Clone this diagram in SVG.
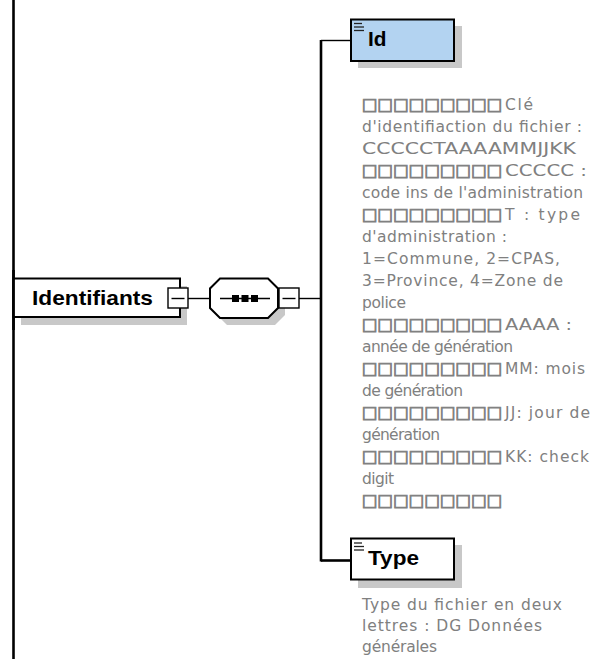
<svg xmlns="http://www.w3.org/2000/svg" width="594" height="659" viewBox="0 0 594 659">
<style>
.bg{fill:#ffffff}
.shadow{fill:#c8c8c8;stroke:none}
.box{fill:#ffffff;stroke:#000;stroke-width:2}
.boxsel{fill:#b3d3f1;stroke:#000;stroke-width:2}
.pm{fill:#ffffff;stroke:#000;stroke-width:1.4}
.thin{stroke:#000;stroke-width:1.4;fill:none}
.thick{stroke:#000;stroke-width:2.6;fill:none}
.icon{stroke:#222;stroke-width:1.3;fill:none}
.lbl{font-family:"Liberation Sans",Arial,sans-serif;font-weight:bold;fill:#000}
.doc{font-family:"DejaVu Sans",Verdana,sans-serif;font-size:15.5px;fill:#808080}
.sq{font-size:16.5px;stroke:#808080;stroke-width:0.8}
</style>
<rect class="bg" x="0" y="0" width="594" height="659"/>

<g id="connectors">
  <line class="thick" x1="13.5" y1="0" x2="13.5" y2="659"/>
  <line class="thin" x1="188" y1="298.5" x2="210" y2="298.5"/>
  <line class="thin" x1="299" y1="298.5" x2="321" y2="298.5"/>
  <line class="thick" x1="321" y1="40" x2="321" y2="561.5"/>
  <line class="thin" x1="321" y1="40.5" x2="351" y2="40.5"/>
  <line class="thick" x1="321" y1="560.5" x2="351" y2="560.5"/>
</g>

<g id="node-identifiants">
  <rect class="shadow" x="21" y="286" width="166" height="39"/>
  <rect class="box" x="13.5" y="278.5" width="166.5" height="38.5"/>
  <line class="thick" x1="13.5" y1="270" x2="13.5" y2="330"/>
  <text class="lbl" x="32" y="305" font-size="21" textLength="121" lengthAdjust="spacingAndGlyphs">Identifiants</text>
  <rect class="pm" x="168" y="288" width="20" height="20"/>
  <line class="thin" x1="171.5" y1="298.5" x2="184.5" y2="298.5"/>
</g>

<g id="node-sequence">
  <polygon class="shadow" points="227,285 275,285 285,295 285,315 275,325 227,325 217,315 217,295"/>
  <polygon points="220,278.5 268,278.5 278,288.5 278,308 268,318 220,318 210,308 210,288.5" fill="#ffffff" stroke="#000" stroke-width="2"/>
  <line class="thin" x1="220" y1="298.5" x2="270" y2="298.5"/>
  <rect x="232" y="295" width="7" height="7" fill="#000"/>
  <rect x="241.5" y="295" width="7" height="7" fill="#000"/>
  <rect x="251" y="295" width="7" height="7" fill="#000"/>
  <rect class="pm" x="279" y="288" width="20" height="20"/>
  <line class="thin" x1="282.5" y1="298.5" x2="295.5" y2="298.5"/>
</g>

<g id="node-id">
  <rect class="shadow" x="358" y="26" width="104" height="42"/>
  <rect class="boxsel" x="351" y="19.5" width="103" height="41.5"/>
  <line class="icon" x1="354" y1="23.5" x2="362" y2="23.5"/>
  <line class="icon" x1="354" y1="27" x2="364" y2="27"/>
  <line class="icon" x1="354" y1="30.5" x2="364" y2="30.5"/>
  <text class="lbl" x="368" y="46" font-size="20" textLength="18.5" lengthAdjust="spacingAndGlyphs">Id</text>
  <g class="doc">
    <text y="110"><tspan class="sq" x="362 377.6 393.2 408.8 424.4 440 455.6 471.2 486.8">□□□□□□□□□</tspan><tspan x="505" textLength="28" lengthAdjust="spacing">Clé</tspan></text>
    <text x="362" y="132" textLength="220" lengthAdjust="spacing">d'identifiaction du fichier :</text>
    <text x="362" y="154" textLength="214" lengthAdjust="spacingAndGlyphs">CCCCCTAAAAMMJJKK</text>
    <text y="176"><tspan class="sq" x="362 377.6 393.2 408.8 424.4 440 455.6 471.2 486.8">□□□□□□□□□</tspan><tspan x="505" textLength="82" lengthAdjust="spacingAndGlyphs">CCCCC :</tspan></text>
    <text x="362" y="198" textLength="221" lengthAdjust="spacing">code ins de l'administration</text>
    <text y="220"><tspan class="sq" x="362 377.6 393.2 408.8 424.4 440 455.6 471.2 486.8">□□□□□□□□□</tspan><tspan x="505" textLength="75" lengthAdjust="spacing">T : type</tspan></text>
    <text x="362" y="242" textLength="145" lengthAdjust="spacing">d'administration :</text>
    <text x="362" y="264" textLength="198" lengthAdjust="spacing">1=Commune, 2=CPAS,</text>
    <text x="362" y="286" textLength="201" lengthAdjust="spacing">3=Province, 4=Zone de</text>
    <text x="362" y="308" textLength="44" lengthAdjust="spacing">police</text>
    <text y="330"><tspan class="sq" x="362 377.6 393.2 408.8 424.4 440 455.6 471.2 486.8">□□□□□□□□□</tspan><tspan x="505" textLength="67" lengthAdjust="spacingAndGlyphs">AAAA :</tspan></text>
    <text x="362" y="352" textLength="151" lengthAdjust="spacing">année de génération</text>
    <text y="374"><tspan class="sq" x="362 377.6 393.2 408.8 424.4 440 455.6 471.2 486.8">□□□□□□□□□</tspan><tspan x="505" textLength="80" lengthAdjust="spacing">MM: mois</tspan></text>
    <text x="362" y="396" textLength="101" lengthAdjust="spacing">de génération</text>
    <text y="418"><tspan class="sq" x="362 377.6 393.2 408.8 424.4 440 455.6 471.2 486.8">□□□□□□□□□</tspan><tspan x="505" textLength="85" lengthAdjust="spacing">JJ: jour de</tspan></text>
    <text x="362" y="440" textLength="78" lengthAdjust="spacing">génération</text>
    <text y="462"><tspan class="sq" x="362 377.6 393.2 408.8 424.4 440 455.6 471.2 486.8">□□□□□□□□□</tspan><tspan x="505" textLength="84" lengthAdjust="spacing">KK: check</tspan></text>
    <text x="362" y="484" textLength="32" lengthAdjust="spacing">digit</text>
    <text y="506"><tspan class="sq" x="362 377.6 393.2 408.8 424.4 440 455.6 471.2 486.8">□□□□□□□□□</tspan></text>
  </g>
</g>

<g id="node-type">
  <rect class="shadow" x="358" y="545" width="104" height="43"/>
  <rect class="box" x="351" y="538.5" width="103" height="41"/>
  <line class="icon" x1="354" y1="543" x2="362" y2="543"/>
  <line class="icon" x1="354" y1="546.5" x2="364" y2="546.5"/>
  <line class="icon" x1="354" y1="550" x2="364" y2="550"/>
  <text class="lbl" x="368" y="565" font-size="20" textLength="51" lengthAdjust="spacingAndGlyphs">Type</text>
  <g class="doc">
    <text x="362" y="610" textLength="200" lengthAdjust="spacing">Type du fichier en deux</text>
    <text x="362" y="631" textLength="180" lengthAdjust="spacing">lettres : DG Données</text>
    <text x="362" y="652" textLength="75" lengthAdjust="spacing">générales</text>
  </g>
</g>
</svg>
